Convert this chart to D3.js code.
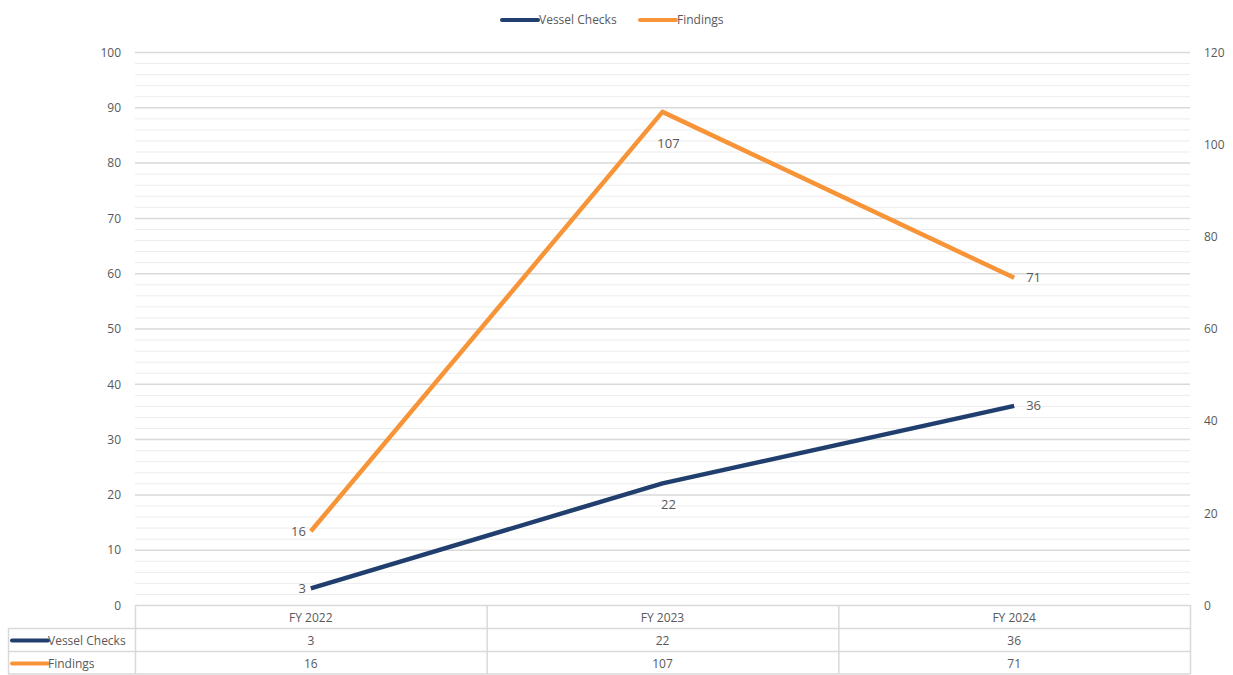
<!DOCTYPE html>
<html>
<head>
<meta charset="utf-8">
<script src="https://cdn.jsdelivr.net/npm/d3@7"></script>
<style>
  body { margin: 0; background: #fff; }
  text { font-family: "Open Sans", "Liberation Sans", sans-serif; font-size: 12px; fill: #595959; }
</style>
</head>
<body>
<svg id="chart" width="1233" height="675"></svg>
<script>
// data
var years = ["FY 2022", "FY 2023", "FY 2024"];
var vesselChecks = [3, 22, 36];
var findings = [16, 107, 71];
var leftTicks = [0, 10, 20, 30, 40, 50, 60, 70, 80, 90, 100];
var rightTicks = [0, 20, 40, 60, 80, 100, 120];

var navy = "#203f6e",
  orange = "#f79438",
  grid = "#d9d9d9",
  minorGrid = "#ececec";

var svg = d3.select("#chart");

// note: "top" is taken by window.top, so use plotTop
var plotLeft = 135, plotRight = 1190, plotTop = 52, plotBottom = 605;

var x = d3.scaleBand().domain(years).range([plotLeft, plotRight]);
var yL = d3.scaleLinear().domain([0, 100]).range([plotBottom, plotTop]);
var yR = d3.scaleLinear().domain([0, 120]).range([plotBottom, plotTop]);

// minor gridlines every 2
svg.append("g")
  .selectAll("line")
  .data(d3.range(0, 101, 2).filter(function(d) { return d % 10 != 0; }))
  .enter()
  .append("line")
  .attr("x1", plotLeft).attr("x2", plotRight)
  .attr("y1", function(d) { return yL(d) + 0.5; })
  .attr("y2", function(d) { return yL(d) + 0.5; })
  .attr("stroke", minorGrid)
  .attr("stroke-width", 1);

// major gridlines
svg.append("g")
  .selectAll("line")
  .data(leftTicks.filter(function(d) { return d > 0; }))
  .enter()
  .append("line")
  .attr("x1", plotLeft).attr("x2", plotRight)
  .attr("y1", function(d) { return yL(d) + 0.5; })
  .attr("y2", function(d) { return yL(d) + 0.5; })
  .attr("stroke", grid)
  .attr("stroke-width", 1.5);

// left axis
var axL = svg.append("g")
  .attr("transform", "translate(" + (plotLeft - 14) + ",0)")
  .call(d3.axisLeft(yL).tickValues(leftTicks).tickSize(0).tickPadding(0));
axL.select(".domain").remove();
axL.selectAll("text").attr("dy", "0.35em");

// right axis
var axR = svg.append("g")
  .attr("transform", "translate(" + (plotRight + 14) + ",0)")
  .call(d3.axisRight(yR).tickValues(rightTicks).tickSize(0).tickPadding(0));
axR.select(".domain").remove();
axR.selectAll("text").attr("dy", "0.35em");

// lines
var cx = function(d, i) { return x(years[i]) + x.bandwidth() / 2; };

var lineL = d3.line().x(cx).y(function(d) { return yL(d); });
var lineR = d3.line().x(cx).y(function(d) { return yR(d); });

svg.append("path")
  .datum(findings)
  .attr("d", lineR)
  .attr("fill", "none")
  .attr("stroke", orange)
  .attr("stroke-width", 4.5)
  .attr("stroke-linejoin", "round");

svg.append("path")
  .datum(vesselChecks)
  .attr("d", lineL)
  .attr("fill", "none")
  .attr("stroke", navy)
  .attr("stroke-width", 4.5)
  .attr("stroke-linejoin", "round");

// data labels: left, below, right
function addLabels(data, scale, below) {
  svg.append("g")
    .selectAll("text")
    .data(data)
    .enter()
    .append("text")
    .attr("x", function(d, i) {
      var c = cx(d, i);
      if (i == 0) return c - 5;
      if (i == 2) return c + 12;
      return c + 6;
    })
    .attr("y", function(d, i) {
      var v = scale(d);
      if (i == 1) return v + below;
      return v;
    })
    .attr("dy", "0.35em")
    .attr("text-anchor", function(d, i) {
      return i == 0 ? "end" : (i == 2 ? "start" : "middle");
    })
    .style("font-size", "13px")
    .text(function(d) { return d; });
}
addLabels(findings, yR, 32);
addLabels(vesselChecks, yL, 21);

// legend
var legend = svg.append("g").attr("transform", "translate(502,20)");
var legItems = [{ text: "Vessel Checks", color: navy, x: 0 }, { text: "Findings", color: orange, x: 138 }];
legItems.forEach(function(d) {
  legend.append("line")
    .attr("x1", d.x).attr("x2", d.x + 36)
    .attr("y1", 0).attr("y2", 0)
    .attr("stroke", d.color).attr("stroke-width", 4)
    .attr("stroke-linecap", "round");
  legend.append("text")
    .attr("x", d.x + 37).attr("y", 0)
    .attr("dy", "0.35em")
    .text(d.text);
});

// data table
var rowH = 23;
var tbl = svg.append("g");
var tableBottom = plotBottom + rowH * 3;
var tableColor = "#d9d9d9";

// horizontal lines
[plotBottom, plotBottom + rowH, plotBottom + 2 * rowH].forEach(function(yy, i) {
  tbl.append("line")
    .attr("x1", i == 0 ? plotLeft : 8).attr("x2", plotRight)
    .attr("y1", yy + 0.5).attr("y2", yy + 0.5)
    .attr("stroke", tableColor).attr("stroke-width", 1.5);
});
tbl.append("line")
  .attr("x1", 8).attr("x2", plotRight)
  .attr("y1", tableBottom).attr("y2", tableBottom)
  .attr("stroke", tableColor).attr("stroke-width", 1.5);
// vertical lines
years.forEach(function(yr) {
  tbl.append("line")
    .attr("x1", x(yr) + 0.5).attr("x2", x(yr) + 0.5)
    .attr("y1", plotBottom).attr("y2", tableBottom)
    .attr("stroke", tableColor).attr("stroke-width", 1.5);
});
tbl.append("line")
  .attr("x1", plotRight + 0.5).attr("x2", plotRight + 0.5)
  .attr("y1", plotBottom).attr("y2", tableBottom)
  .attr("stroke", tableColor).attr("stroke-width", 1.5);
tbl.append("line")
  .attr("x1", 8.5).attr("x2", 8.5)
  .attr("y1", plotBottom + rowH).attr("y2", tableBottom)
  .attr("stroke", tableColor).attr("stroke-width", 1.5);

// header row
tbl.selectAll("text.hdr")
  .data(years)
  .enter()
  .append("text")
  .attr("class", "hdr")
  .attr("x", function(d) { return x(d) + x.bandwidth() / 2; })
  .attr("y", plotBottom + rowH / 2 + 1)
  .attr("dy", "0.35em")
  .attr("text-anchor", "middle")
  .text(function(d) { return d; });

var rows = [
  { text: "Vessel Checks", color: navy, values: vesselChecks },
  { text: "Findings", color: orange, values: findings }
];
rows.forEach(function(r, ri) {
  var yy = plotBottom + rowH * (ri + 1) + rowH / 2 + 1;
  tbl.append("line")
    .attr("x1", 12).attr("x2", 48)
    .attr("y1", yy).attr("y2", yy)
    .attr("stroke", r.color).attr("stroke-width", 4)
    .attr("stroke-linecap", "round");
  tbl.append("text")
    .attr("x", 48).attr("y", yy)
    .attr("dy", "0.35em")
    .text(r.text);
  tbl.selectAll("text.v" + ri)
    .data(r.values)
    .enter()
    .append("text")
    .attr("x", function(d, i) { return x(years[i]) + x.bandwidth() / 2; })
    .attr("y", yy)
    .attr("dy", "0.35em")
    .attr("text-anchor", "middle")
    .text(function(d) { return d; });
});
</script>
</body>
</html>
